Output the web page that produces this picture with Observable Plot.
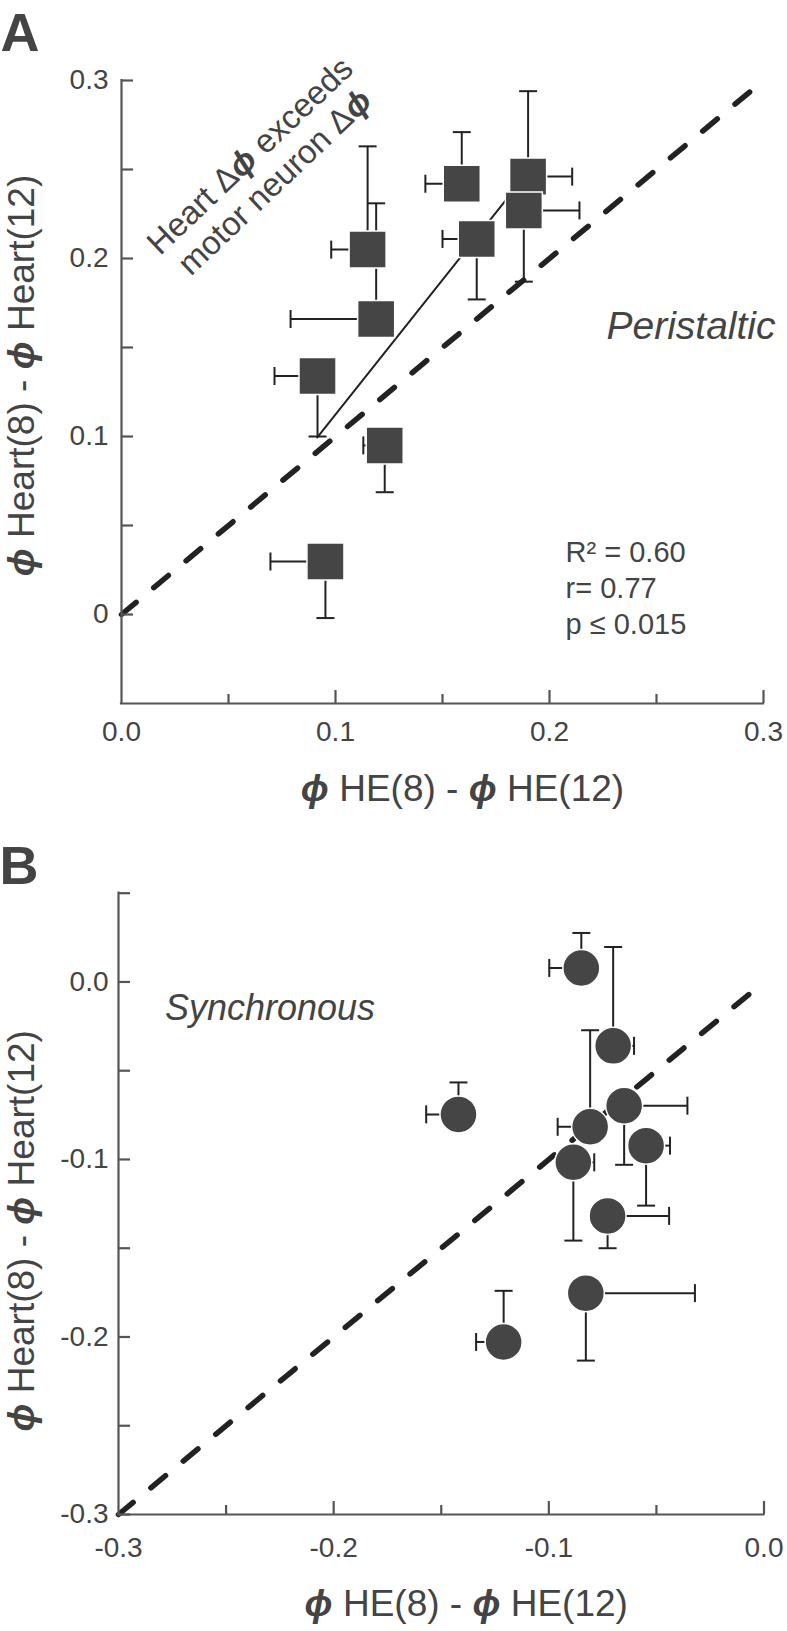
<!DOCTYPE html>
<html>
<head>
<meta charset="utf-8">
<script src="https://cdn.jsdelivr.net/npm/d3@7"></script>
<script src="https://cdn.jsdelivr.net/npm/@observablehq/plot@0.6"></script>
<style>
  body { margin: 0; background: #fff; }
  #chart svg { display: block; }
</style>
</head>
<body>
<div id="chart"></div>
<script>
// ---------- Panel A : peristaltic ----------
const aX     = [0.115, 0.119, 0.0916, 0.123, 0.0953, 0.159, 0.190, 0.188, 0.166];
const aY     = [0.205, 0.166, 0.134, 0.095, 0.0298, 0.242, 0.246, 0.227, 0.211];
const aYEnd  = [0.263, 0.231, 0.100, 0.0687, -0.002, 0.271, 0.294, 0.187, 0.177];
const aXEnd  = [0.098, 0.079, 0.0715, 0.113, 0.0696, 0.142, 0.2106, 0.214, 0.150];
const aFitX  = [0.0915, 0.190];
const aFitY  = [0.0995, 0.2485];
const aIdentity = [0, 0.3];
const aXMajor  = [0.1, 0.2, 0.3];
const aXMinor  = [0.05, 0.15, 0.25];
const aYTicks  = [0, 0.05, 0.1, 0.15, 0.2, 0.25, 0.3];
const aXLabels = [0, 0.1, 0.2, 0.3];
const aYLabels = [0, 0.1, 0.2, 0.3];

// ---------- Panel B : synchronous ----------
const bX     = [-0.0849, -0.0701, -0.142, -0.065, -0.0808, -0.0548, -0.0886, -0.0727, -0.0828, -0.121];
const bY     = [0.0079, -0.036, -0.0746, -0.0697, -0.0816, -0.0922, -0.1016, -0.1318, -0.1753, -0.2028];
const bYEnd  = [0.0276, 0.0197, -0.0566, -0.103, -0.0272, -0.126, -0.1457, -0.150, -0.2133, -0.174];
const bXEnd  = [-0.0998, -0.0604, -0.157, -0.0356, -0.0959, -0.0437, -0.0789, -0.0441, -0.0321, -0.1338];
const bIdentity = [-0.3, 0];
const bXMajor  = [-0.2, -0.1, 0];
const bXMinor  = [-0.25, -0.15, -0.05];
const bYTicks  = [-0.3, -0.25, -0.2, -0.15, -0.1, -0.05, 0, 0.05];
const bXLabels = [-0.3, -0.2, -0.1, 0];
const bYLabels = [-0.3, -0.2, -0.1, 0];

const xTitle = "\u03D5 HE(8) - \u03D5 HE(12)";
const yTitle = "\u03D5 Heart(8) - \u03D5 Heart(12)";

const FONT = "'Liberation Sans', Arial, Helvetica, sans-serif";
const INK = "#444";
const BAR = "#222";
const AXIS = "#555";

const capH = {draw(ctx, size) { const r = Math.sqrt(size / Math.PI); ctx.moveTo(-r, 0); ctx.lineTo(r, 0); }};
const capV = {draw(ctx, size) { const r = Math.sqrt(size / Math.PI); ctx.moveTo(0, -r); ctx.lineTo(0, r); }};

function panel(o) {
  const rows = o.x.map((x, i) => ({x, y: o.y[i], ye: o.yEnd[i], xe: o.xEnd[i]}));
  const innerH = o.height - o.mt - o.mb;
  const innerW = 787 - o.ml - o.mr;
  const marks = [
    Plot.line(o.identity, {x: d => d, y: d => d, stroke: BAR, strokeWidth: 5.5, strokeDasharray: "19,23", strokeLinecap: "round"}),
  ];
  if (o.fitX) {
    const fit = o.fitX.map((x, i) => ({x, y: o.fitY[i]}));
    marks.push(Plot.line(fit, {x: "x", y: "y", stroke: BAR, strokeWidth: 2}));
  }
  marks.push(
    Plot.ruleX(rows, {x: "x", y1: "y", y2: "ye", stroke: BAR, strokeWidth: 2}),
    Plot.ruleY(rows, {y: "y", x1: "x", x2: "xe", stroke: BAR, strokeWidth: 2}),
    Plot.dot(rows, {x: "x", y: "ye", symbol: capH, r: 9, stroke: BAR, strokeWidth: 2, fill: "none"}),
    Plot.dot(rows, {x: "xe", y: "y", symbol: capV, r: 9, stroke: BAR, strokeWidth: 2, fill: "none"}),
    Plot.dot(rows, {x: "x", y: "y", symbol: o.symbol, r: o.r, fill: "#454545", stroke: "#fff", strokeWidth: 1.5}),
    // axes
    Plot.ruleX([o.xDomain[0]], {stroke: AXIS, strokeWidth: 2.2, strokeLinecap: "square"}),
    Plot.ruleY([o.yDomain[0]], {stroke: AXIS, strokeWidth: 2.2, strokeLinecap: "square"}),
    Plot.tickX(o.xMajor, {x: d => d, insetTop: innerH - 13, stroke: AXIS, strokeWidth: 2.2}),
    Plot.tickX(o.xMinor, {x: d => d, insetTop: innerH - 9, stroke: AXIS, strokeWidth: 2.2}),
    Plot.tickY(o.yTicks, {y: d => d, insetRight: innerW - 12, stroke: AXIS, strokeWidth: 2.2}),
    Plot.axisX({ticks: o.xLabels, tickSize: 0, tickPadding: o.xPad, tickFormat: o.xFmt, fontSize: 28, fill: INK, label: null}),
    Plot.axisY({ticks: o.yLabels, tickSize: 0, tickPadding: o.yPad, tickFormat: o.yFmt, fontSize: 28, fill: INK, label: null}),
    // titles
    Plot.text([xTitle], {frameAnchor: "bottom", dx: o.xtDx, dy: o.xtDy, textAnchor: "middle", lineAnchor: "bottom", fontSize: 37, fill: INK}),
    Plot.text([yTitle], {frameAnchor: "left", dx: o.ytDx, dy: o.ytDy, rotate: -90, textAnchor: "middle", lineAnchor: "bottom", fontSize: 37, fill: INK}),
    Plot.text([o.letter], {frameAnchor: "top-left", dx: o.lDx, dy: o.lDy, textAnchor: "start", lineAnchor: "bottom", fontSize: 54, fontWeight: "bold", fill: INK}),
    ...o.extra
  );
  const svg = Plot.plot({
    width: 787, height: o.height,
    marginLeft: o.ml, marginRight: o.mr, marginTop: o.mt, marginBottom: o.mb,
    x: {domain: o.xDomain}, y: {domain: o.yDomain},
    style: {fontFamily: FONT, color: INK, background: "#fff", overflow: "visible"},
    marks
  });
  italicPhi(svg);
  return svg;
}

// set the phi glyphs in italic, as in the original figure
function italicPhi(svg) {
  const walker = document.createTreeWalker(svg, NodeFilter.SHOW_TEXT);
  const nodes = [];
  while (walker.nextNode()) if (walker.currentNode.nodeValue.includes("\u03D5")) nodes.push(walker.currentNode);
  for (const node of nodes) {
    const parts = node.nodeValue.split(/(\u03D5)/);
    const frag = document.createDocumentFragment();
    for (const p of parts) {
      if (!p) continue;
      if (p === "\u03D5") {
        const t = document.createElementNS("http://www.w3.org/2000/svg", "tspan");
        t.setAttribute("font-style", "italic");
        t.setAttribute("font-weight", "bold");
        t.textContent = p;
        frag.appendChild(t);
      } else frag.appendChild(document.createTextNode(p));
    }
    node.parentNode.replaceChild(frag, node);
  }
}

const fmt1 = d => d.toFixed(1);
const chart = document.getElementById("chart");

chart.appendChild(panel({
  x: aX, y: aY, yEnd: aYEnd, xEnd: aXEnd, fitX: aFitX, fitY: aFitY, identity: aIdentity,
  symbol: "square", r: 20.9,
  height: 820, ml: 121, mr: 24, mt: 80, mb: 117,
  xDomain: [0, 0.3], yDomain: [-0.05, 0.3],
  xMajor: aXMajor, xMinor: aXMinor, yTicks: aYTicks, xLabels: aXLabels, yLabels: aYLabels,
  xFmt: fmt1, yFmt: d => d === 0 ? "0" : d.toFixed(1), xPad: 18, yPad: 13,
  xtDx: 20, xtDy: 97, ytDx: -88, ytDy: -16.5, letter: "A", lDx: -121, lDy: -30,
  extra: [
    Plot.text(["Heart \u0394\u03D5 exceeds\nmotor neuron \u0394\u03D5"], {x: 0.0752, y: 0.2385, rotate: -43.5, textAnchor: "middle", lineAnchor: "bottom", lineHeight: 1.1, fontSize: 33, fill: INK}),
    Plot.text(["Peristaltic"], {x: 0.3, y: 0.155, dx: 12, textAnchor: "end", lineAnchor: "bottom", fontSize: 39, fontStyle: "italic", fill: INK}),
    Plot.text(["R\u00B2 = 0.60\nr= 0.77\np \u2264 0.015"], {x: 0.2075, y: -0.0112, textAnchor: "start", lineAnchor: "bottom", lineHeight: 1.25, fontSize: 29, fill: INK})
  ]
}));

chart.appendChild(panel({
  x: bX, y: bY, yEnd: bYEnd, xEnd: bXEnd, identity: bIdentity,
  symbol: "circle", r: 18.5,
  height: 811, ml: 118, mr: 23.5, mt: 72.7, mb: 117,
  xDomain: [-0.3, 0], yDomain: [-0.3, 0.05],
  xMajor: bXMajor, xMinor: bXMinor, yTicks: bYTicks, xLabels: bXLabels, yLabels: bYLabels,
  xFmt: fmt1, yFmt: fmt1, xPad: 23, yPad: 10,
  xtDx: 25, xtDy: 101, ytDx: -85, ytDy: 27, letter: "B", lDx: -119, lDy: -9.7,
  extra: [
    Plot.text(["Synchronous"], {x: -0.2784, y: -0.02154, textAnchor: "start", lineAnchor: "bottom", fontSize: 36, fontStyle: "italic", fill: INK})
  ]
}));
</script>
</body>
</html>
